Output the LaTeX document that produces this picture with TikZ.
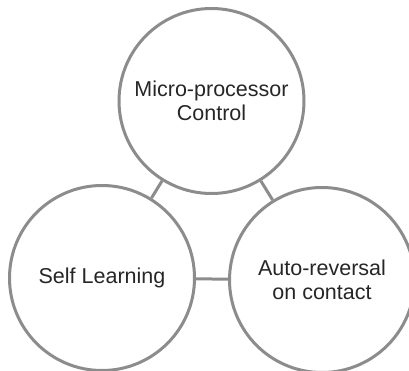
\documentclass[tikz,border=0pt]{standalone}
\usepackage{fontspec}
\setmainfont{Liberation Sans}
\usepackage{tikz}
\usetikzlibrary{positioning}
\definecolor{ringgray}{RGB}{140,140,140}

\begin{document}
\begin{tikzpicture}[x=1pt, y=1pt, font=\fontsize{21.5}{24}\selectfont]
\tikzstyle{every node}=[circle, draw=ringgray, line width=3pt, minimum size=185pt, inner sep=0pt, align=center, text=black!85]
\useasboundingbox (0,0) rectangle (409,-371);

\node (ctl)  at (211.5,-101) {Micro-processor\\Control};
\node (self) at (102,-278)   {Self Learning};
\node (rev)  at (322,-280)   {Auto-reversal\\on contact};

\path[draw=ringgray, line width=3pt] (ctl) edge (self);
\path[draw=ringgray, line width=3pt] (ctl) edge (rev);
\path[draw=ringgray, line width=3pt] (self) edge (rev);
\end{tikzpicture}
\end{document}
